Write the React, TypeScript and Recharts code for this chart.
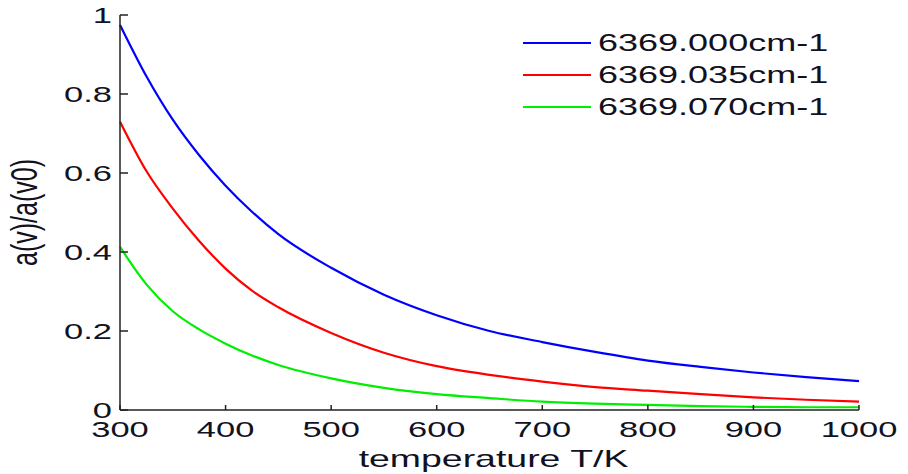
import { Line, LineChart, XAxis, YAxis } from "recharts";

// Temperature grid (K) and a(v)/a(v0).
const temps = [300, 325, 350, 375, 400, 425, 450, 500, 550, 600, 650, 700, 750, 800, 850, 900, 950, 1000];
const line000 = [0.975, 0.845, 0.735, 0.645, 0.568, 0.502, 0.445, 0.36, 0.292, 0.24, 0.2, 0.172, 0.147, 0.125, 0.109, 0.095, 0.083, 0.073];
const line035 = [0.73, 0.605, 0.51, 0.428, 0.358, 0.302, 0.26, 0.195, 0.145, 0.111, 0.089, 0.072, 0.058, 0.049, 0.04, 0.032, 0.026, 0.021];
const line070 = [0.413, 0.318, 0.25, 0.204, 0.168, 0.138, 0.114, 0.08, 0.056, 0.04, 0.03, 0.021, 0.016, 0.013, 0.01, 0.008, 0.007, 0.007];

const xTicks = [300, 400, 500, 600, 700, 800, 900, 1000];
const yTicks = [0, 0.2, 0.4, 0.6, 0.8, 1];

const SERIES = [
  { key: "a000", name: "6369.000cm-1", color: "#0000ff" },
  { key: "a035", name: "6369.035cm-1", color: "#ff0000" },
  { key: "a070", name: "6369.070cm-1", color: "#00ee00" },
];

const data = temps.map((t, i) => ({ t, a000: line000[i], a035: line035[i], a070: line070[i] }));

const FONT = "'Liberation Sans', Arial, sans-serif";
const INK = "#111122";
const STRETCH = 1.5; // the source image is stretched horizontally

function XTick({ x, y, payload }: any) {
  return (
    <g transform={`translate(${x},${y})`}>
      <line x1={0} y1={0} x2={0} y2={-5} stroke="#222" strokeWidth={1.5} />
      <text transform={`scale(${STRETCH},1)`} y={27} textAnchor="middle" fontFamily={FONT} fontSize={23} fill={INK}>
        {payload.value}
      </text>
    </g>
  );
}

function YTick({ x, y, payload }: any) {
  return (
    <g transform={`translate(${x},${y})`}>
      <line x1={0} y1={0} x2={8} y2={0} stroke="#222" strokeWidth={1.5} />
      <text transform={`translate(-8,0) scale(${STRETCH},1)`} y={8} textAnchor="end" fontFamily={FONT} fontSize={23} fill={INK}>
        {payload.value}
      </text>
    </g>
  );
}

function XLabel({ viewBox }: any) {
  const cx = viewBox.x + viewBox.width / 2 + 4;
  return (
    <text transform={`translate(${cx},467) scale(1.56,1)`} textAnchor="middle" fontFamily={FONT} fontSize={24} fill={INK}>
      temperature T/K
    </text>
  );
}

function YLabel({ viewBox }: any) {
  const cy = viewBox.y + viewBox.height / 2;
  return (
    <text
      transform={`translate(24,${cy}) rotate(-90) scale(1,${STRETCH})`}
      textAnchor="middle"
      dominantBaseline="central"
      fontFamily={FONT}
      fontSize={25}
      fill={INK}
    >
      a(v)/a(v0)
    </text>
  );
}

// Legend drawn as an overlay so it does not eat into the plot margins.
function LegendBox() {
  return (
    <div style={{ position: "absolute", left: 523, top: 27, fontFamily: FONT }}>
      {SERIES.map((s) => (
        <div key={s.key} style={{ display: "flex", alignItems: "center", height: 32 }}>
          <div style={{ width: 68, height: 2, background: s.color, marginRight: 7 }} />
          <span
            style={{
              fontSize: 24,
              color: INK,
              display: "inline-block",
              transform: `scaleX(${STRETCH})`,
              transformOrigin: "left center",
              whiteSpace: "nowrap",
            }}
          >
            {s.name}
          </span>
        </div>
      ))}
    </div>
  );
}

export default function App() {
  return (
    <div style={{ position: "absolute", left: 0, top: 0, width: 908, height: 474, background: "#fff" }}>
      <LineChart width={908} height={474} data={data} margin={{ top: 15, right: 49, left: 0, bottom: 0 }}>
        <XAxis
          dataKey="t"
          type="number"
          domain={[300, 1000]}
          ticks={xTicks}
          interval={0}
          height={64}
          tickSize={0}
          tickMargin={0}
          tickLine={false}
          tick={<XTick />}
          axisLine={{ stroke: "#222", strokeWidth: 1.5 }}
          label={<XLabel />}
        />
        <YAxis
          type="number"
          domain={[0, 1]}
          ticks={yTicks}
          interval={0}
          width={120}
          tickSize={0}
          tickMargin={0}
          tickLine={false}
          tick={<YTick />}
          axisLine={{ stroke: "#222", strokeWidth: 1.5 }}
          label={<YLabel />}
        />
        {SERIES.map((s) => (
          <Line
            key={s.key}
            type="monotone"
            dataKey={s.key}
            name={s.name}
            stroke={s.color}
            strokeWidth={2.2}
            dot={false}
            isAnimationActive={false}
          />
        ))}
      </LineChart>
      <LegendBox />
    </div>
  );
}
